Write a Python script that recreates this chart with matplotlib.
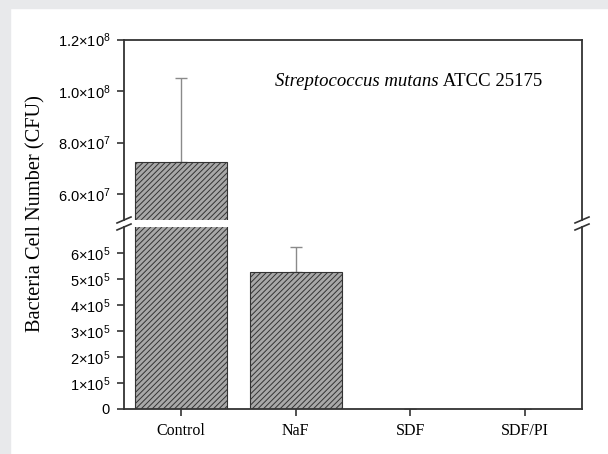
import numpy as np
import matplotlib
matplotlib.use("Agg")
import matplotlib.pyplot as plt
from matplotlib.patches import Rectangle

# data
groups = ["Control", "NaF", "SDF", "SDF/PI"]
cfu = [7.25e7, 5.27e5, 0, 0]
err_up = [3.25e7, 0.96e5, 0, 0]

upper_ticks = [6e7, 8e7, 1.0e8, 1.2e8]
upper_labels = ["6.0×10$\\mathregular{^{7}}$", "8.0×10$\\mathregular{^{7}}$",
                "1.0×10$\\mathregular{^{8}}$", "1.2×10$\\mathregular{^{8}}$"]
lower_ticks = [0, 1e5, 2e5, 3e5, 4e5, 5e5, 6e5]
lower_labels = ["0"] + ["%d×10$\\mathregular{^{5}}$" % i for i in range(1, 7)]

plt.rcParams['hatch.linewidth'] = 0.7
spine_c = "#333333"

fig = plt.figure(figsize=(6.08, 4.54), dpi=100)
fig.patch.set_facecolor("white")
# grey frame on top and left
fig.patches.append(Rectangle((0, 0), 10/608, 1, transform=fig.transFigure, color="#e8e9eb", zorder=0))
fig.patches.append(Rectangle((0, 1 - 8/454), 1, 8/454, transform=fig.transFigure, color="#e8e9eb", zorder=0))

L, R = 124/608, 582/608
ax_top = fig.add_axes([L, 1 - 220/454, R - L, (220 - 39.5)/454])
ax_bot = fig.add_axes([L, 1 - 409/454, R - L, (409 - 227)/454])

x = np.arange(len(groups))
for ax in (ax_top, ax_bot):
    ax.bar(x, cfu, width=0.8, color="#a8a8a8", edgecolor=spine_c, linewidth=0.8, hatch="//////", zorder=2)
    ax.errorbar(x, cfu, yerr=[np.zeros(len(x)), err_up], fmt="none", ecolor="#8a8a8a",
                elinewidth=1, capsize=4, capthick=1, zorder=1)
    ax.set_xlim(-0.5, 3.5)
    for s in ax.spines.values():
        s.set_color(spine_c)
        s.set_linewidth(1.3)
    ax.tick_params(axis="y", direction="out", length=5, width=1.2, color=spine_c, pad=5)

ax_top.set_ylim(5e7, 1.2e8)
ax_top.set_yticks(upper_ticks)
ax_top.set_yticklabels(upper_labels, family="Liberation Sans", fontsize=10.5)
ax_top.spines["bottom"].set_visible(False)
ax_top.set_xticks([])

ax_bot.set_ylim(0, 7e5)
ax_bot.set_yticks(lower_ticks)
ax_bot.set_yticklabels(lower_labels, family="Liberation Sans", fontsize=10.5)
ax_bot.spines["top"].set_visible(False)
ax_bot.set_xticks(x)
ax_bot.set_xticklabels(groups, family="Liberation Serif", fontsize=11.5)
ax_bot.tick_params(axis="x", direction="out", length=5, width=1.2, color=spine_c, pad=5)

# break marks
ybrk = 1 - 223.5/454
for xb in (L, R):
    for dy in (-3.5/454, 3.5/454):
        fig.add_artist(plt.Line2D([xb - 7/608, xb + 7/608], [ybrk + dy - 3/454, ybrk + dy + 3/454],
                                  color=spine_c, lw=1.2, transform=fig.transFigure))

fig.text(35.5/608, 1 - 213.5/454, "Bacteria Cell Number (CFU)", rotation=90, ha="center", va="center",
         family="Liberation Serif", fontsize=14.7)

t1 = ax_top.text(0.33, 0.745, "Streptococcus mutans", transform=ax_top.transAxes,
                 family="Liberation Serif", style="italic", fontsize=13.5, ha="left", va="baseline")
ax_top.annotate(" ATCC 25175", xy=(1, 0), xycoords=t1, ha="left", va="bottom",
                family="Liberation Serif", fontsize=13.5)

fig.savefig("out.png", dpi=100)
